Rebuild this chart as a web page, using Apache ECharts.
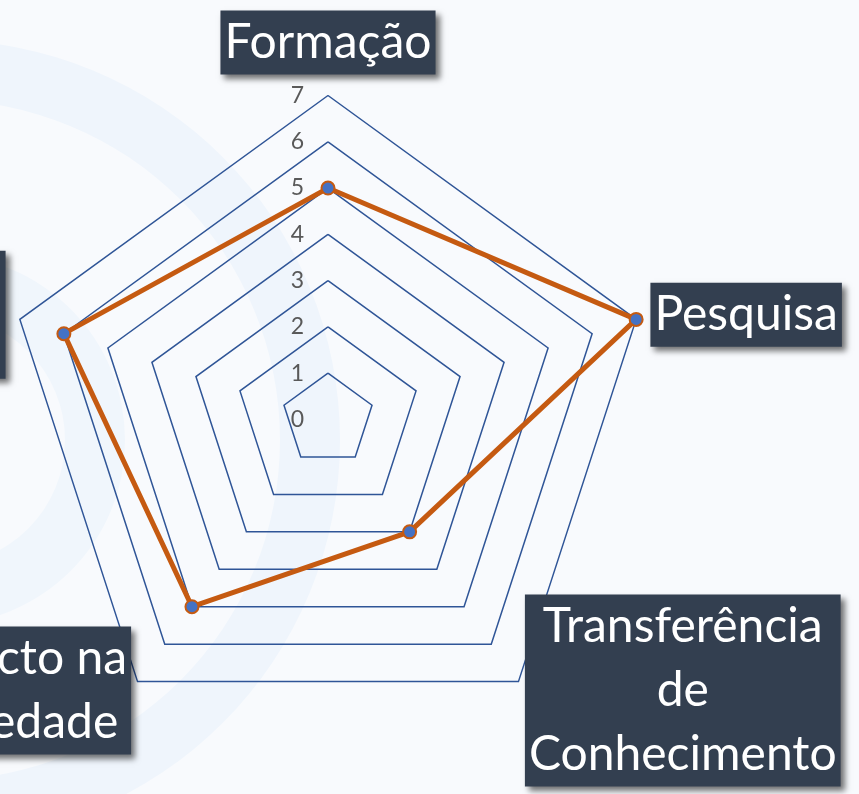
<!DOCTYPE html>
<html>
<head>
<meta charset="utf-8">
<script src="https://cdn.jsdelivr.net/npm/echarts@6/dist/echarts.min.js"></script>
<style>
  html, body { margin: 0; padding: 0; background: #F8FAFD; }
  #chart { width: 859px; height: 794px; }
</style>
</head>
<body>
<div id="chart"></div>
<script>
// indicadores e valores (ordem do echarts: anti-horário a partir do topo)
const indicatorNames = ['Formação', 'Internacionalização', 'Impacto na Sociedade', 'Transferência de Conhecimento', 'Pesquisa']
const nameLines = [['Formação'], ['Internacionaliza-', 'ção'], ['Impacto na', 'Sociedade'], ['Transferência', 'de', 'Conhecimento'], ['Pesquisa']]
const scores = [5, 6, 5, 3, 7]
const axisMin = 0
const axisMax = 7

const FONT = 'Lato'
const BOX = '#333F50'

// posição do rótulo de cada eixo
const nameGaps = [21, 15, 11, 11, 15]
const nameAligns = [['center', 'bottom'], ['right', 'middle'], ['right', 'middle'], ['left', 'middle'], ['left', 'middle']]

const myChart = echarts.init(document.getElementById('chart'))

myChart.setOption({
    backgroundColor: '#F8FAFD',
    animation: false,
    graphic: [
        // arcos decorativos do fundo
        { type: 'ring', z: -10, silent: true, shape: { cx: -60, cy: 440, r: 400, r0: 340 }, style: { fill: '#EFF5FC' } },
        { type: 'ring', z: -10, silent: true, shape: { cx: -60, cy: 440, r: 185, r0: 125 }, style: { fill: '#F0F6FC' } }
    ],
    radar: {
        center: [328, 419.5],
        radius: 324,
        shape: 'polygon',
        splitNumber: axisMax - axisMin,
        startAngle: 90,
        axisName: {
            color: '#fff',
            backgroundColor: BOX,
            fontFamily: FONT,
            fontSize: 48,
            lineHeight: 64,
            padding: [0, 4],
            shadowColor: 'rgba(0,0,0,0.55)',
            shadowBlur: 6,
            shadowOffsetX: 4,
            shadowOffsetY: 4,
            rich: {
                c: { align: 'center', color: '#fff', fontFamily: FONT, fontSize: 48, lineHeight: 64 }
            },
            formatter: function (name) {
                const i = indicatorNames.indexOf(name)
                return nameLines[i].map((l) => '{c|' + l + '}').join('\n')
            }
        },
        axisLine: { show: false },
        axisTick: { show: false },
        axisLabel: {
            show: false,
            color: '#595959',
            fontFamily: FONT,
            fontSize: 23,
            margin: 24
        },
        splitLine: { lineStyle: { color: '#2F5597', width: 1.5 } },
        splitArea: { show: false },
        indicator: indicatorNames.map((name, i) => ({
            name: name,
            min: axisMin,
            max: axisMax,
            nameGap: nameGaps[i],
            nameTextStyle: { align: nameAligns[i][0], verticalAlign: nameAligns[i][1] },
            axisLabel: { show: i === 0 }
        }))
    },
    series: [
        {
            type: 'radar',
            symbol: 'circle',
            symbolSize: 13,
            lineStyle: { color: '#C55A11', width: 5 },
            itemStyle: { color: '#4472C4', borderColor: '#C55A11', borderWidth: 2 },
            data: [{ value: scores, name: 'Pontuação' }]
        }
    ]
})
</script>
</body>
</html>
